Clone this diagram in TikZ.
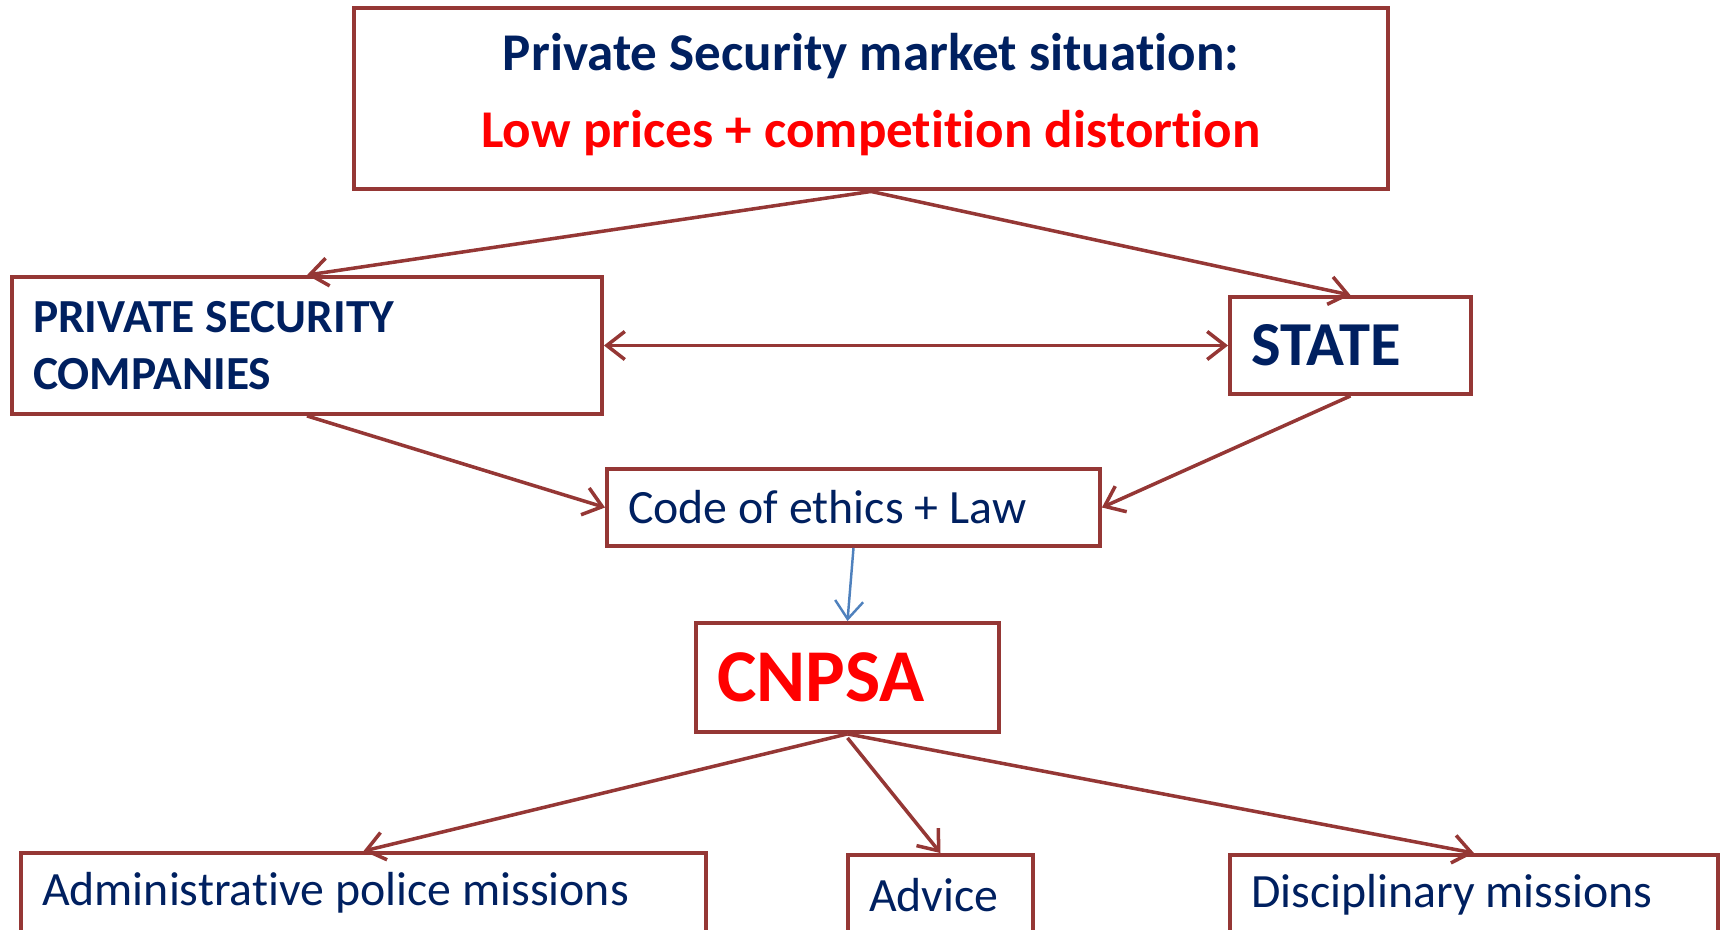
\documentclass[tikz,border=0pt]{standalone}
\usepackage{fontspec}
\setmainfont{Carlito}[Ligatures=NoCommon]
\usepackage{xcolor}
\usepackage{tikz}
\usetikzlibrary{positioning}
\usetikzlibrary{arrows.meta}
\definecolor{boxred}{HTML}{953735}
\definecolor{navy}{HTML}{002060}
\definecolor{arrowblue}{HTML}{4F81BD}
\tikzset{
    box/.style={draw=boxred, line width=1.1pt, rectangle, inner xsep=0.21cm, align=left, text=navy,
                execute at begin node={\spaceskip=0.23em\relax}},
    head/.style={font=\bfseries\fontsize{15.1pt}{21.8pt}\selectfont},
    actor/.style={font=\bfseries\fontsize{13.5pt}{16pt}\selectfont},
    plain/.style={font=\fontsize{13.6pt}{16pt}\selectfont},
    arrow/.style={draw=boxred, line width=1pt, -{Straight Barb[length=1.8mm,width=2.8mm]}}
}

\begin{document}
\begin{tikzpicture}

\useasboundingbox (0,0) rectangle (17.25,-9.30);
\clip (0,0) rectangle (17.25,-9.30);

\node [box, head, align=center, line width=1.4pt, text width=9.92cm, minimum height=1.81cm] (market) at (8.71,-0.985)
      {Private Security market situation:\\ \textcolor{red}{Low prices + competition distortion}\rule[-0.16cm]{0pt}{0pt}};
\node [box, actor, text width=5.48cm, minimum height=1.37cm]  (psc)    at (3.07,-3.455)  {PRIVATE SECURITY\\COMPANIES};
\node [box, text width=1.99cm, minimum height=0.97cm, font=\bfseries\fontsize{17.8pt}{19pt}\selectfont] (state) at (13.505,-3.455) {STATE};
\node [box, plain, text width=4.51cm, minimum height=0.77cm]  (code)   at (8.535,-5.075) {Code of ethics + Law};
\node [box, text width=2.61cm, minimum height=1.09cm, text=red, font=\bfseries\fontsize{21.2pt}{23pt}\selectfont] (cnpsa) at (8.475,-6.775) {CNPSA};
\node [box, plain, text width=6.43cm, minimum height=0.80cm]  (admin)  at (3.635,-8.93)  {Administrative police missions};
\node [box, plain, text width=1.43cm, minimum height=0.80cm]  (advice) at (9.405,-8.95)  {Advice};
\node [box, plain, text width=4.46cm, minimum height=0.80cm]  (disc)   at (14.74,-8.95)  {Disciplinary missions};
\coordinate [below=0.04cm of cnpsa.south] (c);

\draw [arrow] (market.south) to (psc.north);
\draw [arrow] (market.south) to (state.north);
\draw [arrow, {Straight Barb[length=1.8mm,width=2.8mm]}-{Straight Barb[length=1.8mm,width=2.8mm]}] (psc.east) to (state.west);
\draw [arrow] (psc.south) to (code.west);
\draw [arrow] (state.south) to (code.east);
\draw [arrow, draw=arrowblue, line width=0.7pt] (code.south) to (cnpsa.north);
\draw [arrow] (cnpsa.south) to (admin.north);
\draw [arrow] (c) to (advice.north);
\draw [arrow] (cnpsa.south) to (disc.north);

\end{tikzpicture}
\end{document}
